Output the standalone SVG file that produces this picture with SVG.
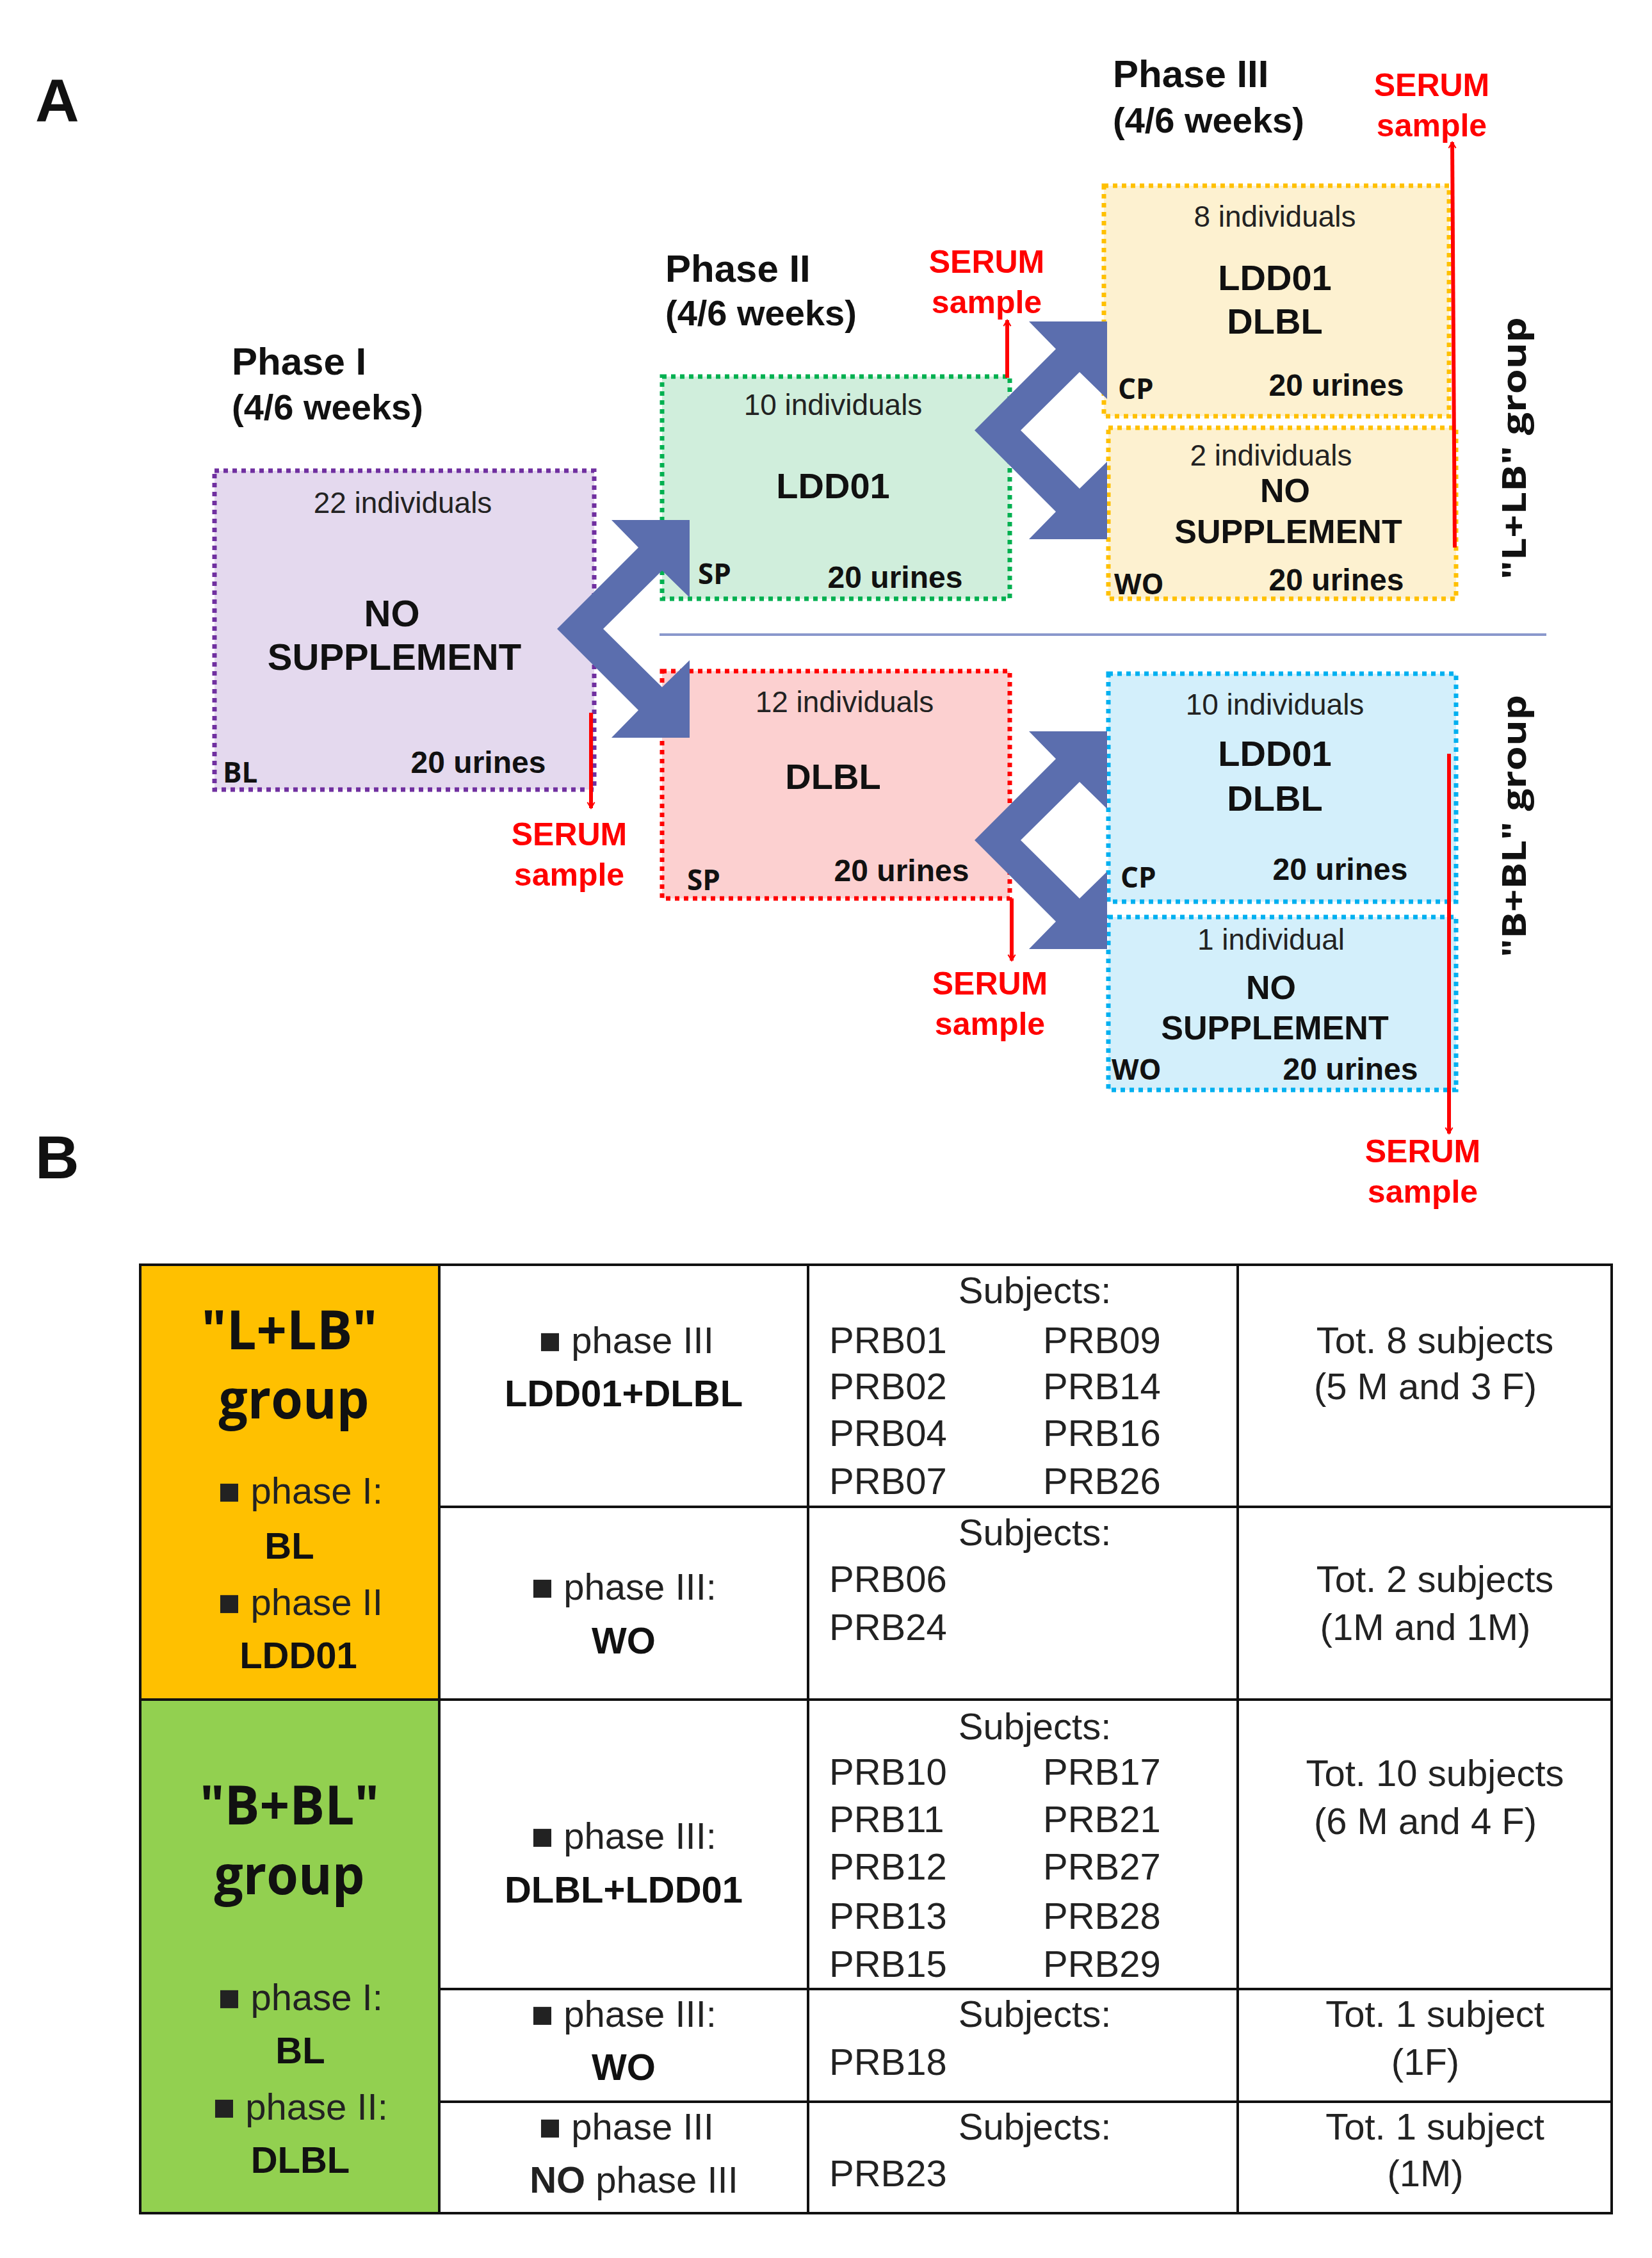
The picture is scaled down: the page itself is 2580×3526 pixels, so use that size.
<svg xmlns="http://www.w3.org/2000/svg" width="2580" height="3526" viewBox="0 0 2580 3526">
<style>
.b{font-family:"Liberation Sans",Arial,sans-serif;font-weight:bold;fill:#111}
.r{font-family:"Liberation Sans",Arial,sans-serif;fill:#222}
.c{font-family:"Open Sans","Liberation Sans",sans-serif;font-weight:bold;fill:#111}
.s{font-family:"Liberation Sans",Arial,sans-serif;font-weight:bold;fill:#ff0000;font-size:50px;text-anchor:middle}
.m{text-anchor:middle}
.box{stroke-width:7;stroke-dasharray:7 7}
.n{font-family:"Liberation Sans Narrow","Liberation Sans",Arial,sans-serif;font-size:58px;fill:#222}
.nb{font-family:"Liberation Sans Narrow","Liberation Sans",Arial,sans-serif;font-size:58px;font-weight:bold;fill:#111}
.cell{stroke:#111;stroke-width:4;fill:none}
.chev{fill:#5b6eae}
.red{stroke:#ff0000;stroke-width:6;fill:none}
</style>
<defs>
<marker id="ah" viewBox="0 0 20 20" refX="17" refY="10" markerWidth="8" markerHeight="8" markerUnits="userSpaceOnUse" orient="auto" style="overflow:visible">
<path d="M-6,-4 L17,10 L-6,24" fill="none" stroke="#ff0000" stroke-width="5"/>
</marker>
<polygon id="chevron" points="0,0 127,-127 85,-170 207,-170 207,-49 164,-91 72,0 164,91 207,49 207,170 85,170 127,127"/>
</defs>
<rect width="2580" height="3526" fill="#fff"/>
<text class="b" x="55" y="190" font-size="95">A</text>
<text class="b" x="55" y="1840" font-size="95">B</text>

<g id="phase-labels">
<text class="b" x="362" y="585" font-size="60">Phase I</text>
<text class="b" x="362" y="655" font-size="56">(4/6 weeks)</text>
<text class="b" x="1039" y="440" font-size="60">Phase II</text>
<text class="b" x="1039" y="508" font-size="56">(4/6 weeks)</text>
<text class="b" x="1738" y="136" font-size="60">Phase III</text>
<text class="b" x="1738" y="207" font-size="56">(4/6 weeks)</text>
</g>

<g id="phase1">
<rect class="box" x="335" y="735" width="593" height="498" fill="#e4d9ee" stroke="#7030a0"/>
<text class="r m" x="629" y="801" font-size="46">22 individuals</text>
<text class="b m" x="612" y="978" font-size="58">NO</text>
<text class="b m" x="616" y="1046" font-size="58">SUPPLEMENT</text>
<text class="c" x="348" y="1222" font-size="44">BL</text>
<text class="b m" x="747" y="1207" font-size="48">20 urines</text>
</g>

<g id="phase2-ldd01">
<rect class="box" x="1034" y="588" width="543" height="347" fill="#d0eedc" stroke="#00b050"/>
<text class="r m" x="1301" y="648" font-size="46">10 individuals</text>
<text class="b m" x="1301" y="778" font-size="56">LDD01</text>
<text class="c" x="1090" y="912" font-size="44">SP</text>
<text class="b m" x="1398" y="918" font-size="48">20 urines</text>
</g>

<g id="phase2-dlbl">
<rect class="box" x="1034" y="1048" width="543" height="355" fill="#fcd0d0" stroke="#ff0000"/>
<text class="r m" x="1319" y="1112" font-size="46">12 individuals</text>
<text class="b m" x="1301" y="1232" font-size="56">DLBL</text>
<text class="c" x="1073" y="1390" font-size="44">SP</text>
<text class="b m" x="1408" y="1376" font-size="48">20 urines</text>
</g>

<g id="phase3-ll-cp">
<rect class="box" x="1724" y="290" width="539" height="360" fill="#fdf1d0" stroke="#ffc000"/>
<text class="r m" x="1991" y="354" font-size="46">8 individuals</text>
<text class="b m" x="1991" y="453" font-size="56" fill="#3a3000">LDD01</text>
<text class="b m" x="1991" y="521" font-size="56" fill="#3a3000">DLBL</text>
<text class="c" x="1746" y="623" font-size="44">CP</text>
<text class="b m" x="2087" y="618" font-size="48">20 urines</text>
</g>

<g id="phase3-ll-wo">
<rect class="box" x="1731" y="668" width="543" height="267" fill="#fdf1d0" stroke="#ffc000"/>
<text class="r m" x="1985" y="727" font-size="46">2 individuals</text>
<text class="b m" x="2007" y="784" font-size="52">NO</text>
<text class="b m" x="2012" y="848" font-size="52">SUPPLEMENT</text>
<text class="c" x="1740" y="928" font-size="44">WO</text>
<text class="b m" x="2087" y="922" font-size="48">20 urines</text>
</g>

<g id="phase3-bb-cp">
<rect class="box" x="1731" y="1052" width="543" height="356" fill="#d3effb" stroke="#00b0f0"/>
<text class="r m" x="1991" y="1116" font-size="46">10 individuals</text>
<text class="b m" x="1991" y="1196" font-size="56">LDD01</text>
<text class="b m" x="1991" y="1266" font-size="56">DLBL</text>
<text class="c" x="1750" y="1386" font-size="44">CP</text>
<text class="b m" x="2093" y="1374" font-size="48">20 urines</text>
</g>

<g id="phase3-bb-wo">
<rect class="box" x="1731" y="1432" width="543" height="270" fill="#d3effb" stroke="#00b0f0"/>
<text class="r m" x="1985" y="1483" font-size="46">1 individual</text>
<text class="b m" x="1985" y="1560" font-size="52">NO</text>
<text class="b m" x="1991" y="1623" font-size="52">SUPPLEMENT</text>
<text class="c" x="1736" y="1686" font-size="44">WO</text>
<text class="b m" x="2109" y="1686" font-size="48">20 urines</text>
</g>

<g id="group-labels">
<text class="c m" transform="translate(2383,700) rotate(-90)" font-size="52" textLength="410" lengthAdjust="spacingAndGlyphs">"L+LB" group</text>
<text class="c m" transform="translate(2383,1290) rotate(-90)" font-size="52" textLength="410" lengthAdjust="spacingAndGlyphs">"B+BL" group</text>
</g>

<g id="connectors">
<line x1="1030" y1="991" x2="2415" y2="991" stroke="#8a98cc" stroke-width="4"/>
<use href="#chevron" class="chev" x="870" y="982"/>
<use href="#chevron" class="chev" x="1522" y="672"/>
<use href="#chevron" class="chev" x="1522" y="1312"/>
<line class="red" x1="923" y1="1113" x2="923" y2="1262" marker-end="url(#ah)"/>
<line class="red" x1="1573" y1="590" x2="1573" y2="500" marker-end="url(#ah)"/>
<line class="red" x1="2272" y1="855" x2="2268" y2="222" marker-end="url(#ah)"/>
<line class="red" x1="1580" y1="1403" x2="1580" y2="1500" marker-end="url(#ah)"/>
<line class="red" x1="2263" y1="1177" x2="2263" y2="1770" marker-end="url(#ah)"/>
<text class="s" x="889" y="1320">SERUM</text>
<text class="s" x="889" y="1383">sample</text>
<text class="s" x="1541" y="426">SERUM</text>
<text class="s" x="1541" y="489">sample</text>
<text class="s" x="2236" y="150">SERUM</text>
<text class="s" x="2236" y="213">sample</text>
<text class="s" x="1546" y="1553">SERUM</text>
<text class="s" x="1546" y="1616">sample</text>
<text class="s" x="2222" y="1815">SERUM</text>
<text class="s" x="2222" y="1878">sample</text>
</g>

<g id="table">
<rect x="219" y="1975" width="467" height="679" fill="#ffc000"/>
<rect x="219" y="2654" width="467" height="802" fill="#92d050"/>
<rect class="cell" x="219" y="1975" width="2298" height="1481"/>
<line class="cell" x1="686" y1="1975" x2="686" y2="3456"/>
<line class="cell" x1="1262" y1="1975" x2="1262" y2="3456"/>
<line class="cell" x1="1933" y1="1975" x2="1933" y2="3456"/>
<line class="cell" x1="686" y1="2353" x2="2517" y2="2353"/>
<line class="cell" x1="219" y1="2654" x2="2517" y2="2654"/>
<line class="cell" x1="686" y1="3106" x2="2517" y2="3106"/>
<line class="cell" x1="686" y1="3282" x2="2517" y2="3282"/>

<text class="c m" x="452" y="2107" font-size="84" textLength="275" lengthAdjust="spacingAndGlyphs">"L+LB"</text>
<text class="c m" x="459" y="2215" font-size="84" textLength="235" lengthAdjust="spacingAndGlyphs">group</text>
<text class="n m" x="469" y="2348">■ phase I:</text>
<text class="nb m" x="452" y="2434">BL</text>
<text class="n m" x="469" y="2522">■ phase II</text>
<text class="nb m" x="466" y="2605">LDD01</text>
<text class="c m" x="452" y="2849" font-size="84" textLength="280" lengthAdjust="spacingAndGlyphs">"B+BL"</text>
<text class="c m" x="452" y="2958" font-size="84" textLength="235" lengthAdjust="spacingAndGlyphs">group</text>
<text class="n m" x="469" y="3139">■ phase I:</text>
<text class="nb m" x="469" y="3222">BL</text>
<text class="n m" x="469" y="3310">■ phase II:</text>
<text class="nb m" x="469" y="3393">DLBL</text>

<text class="n m" x="978" y="2113">■ phase III</text>
<text class="nb m" x="974" y="2196">LDD01+DLBL</text>
<text class="n m" x="974" y="2498">■ phase III:</text>
<text class="nb m" x="974" y="2582">WO</text>
<text class="n m" x="974" y="2887">■ phase III:</text>
<text class="nb m" x="974" y="2971">DLBL+LDD01</text>
<text class="n m" x="974" y="3165">■ phase III:</text>
<text class="nb m" x="974" y="3248">WO</text>
<text class="n m" x="978" y="3341">■ phase III</text>
<text class="n m" x="990" y="3424"><tspan font-weight="bold">NO</tspan> phase III</text>

<text class="n m" x="1616" y="2035">Subjects:</text>
<text class="n" x="1295" y="2113">PRB01</text><text class="n" x="1629" y="2113">PRB09</text>
<text class="n" x="1295" y="2185">PRB02</text><text class="n" x="1629" y="2185">PRB14</text>
<text class="n" x="1295" y="2258">PRB04</text><text class="n" x="1629" y="2258">PRB16</text>
<text class="n" x="1295" y="2333">PRB07</text><text class="n" x="1629" y="2333">PRB26</text>
<text class="n m" x="1616" y="2413">Subjects:</text>
<text class="n" x="1295" y="2486">PRB06</text>
<text class="n" x="1295" y="2561">PRB24</text>
<text class="n m" x="1616" y="2716">Subjects:</text>
<text class="n" x="1295" y="2787">PRB10</text><text class="n" x="1629" y="2787">PRB17</text>
<text class="n" x="1295" y="2861">PRB11</text><text class="n" x="1629" y="2861">PRB21</text>
<text class="n" x="1295" y="2935">PRB12</text><text class="n" x="1629" y="2935">PRB27</text>
<text class="n" x="1295" y="3012">PRB13</text><text class="n" x="1629" y="3012">PRB28</text>
<text class="n" x="1295" y="3087">PRB15</text><text class="n" x="1629" y="3087">PRB29</text>
<text class="n m" x="1616" y="3165">Subjects:</text>
<text class="n" x="1295" y="3240">PRB18</text>
<text class="n m" x="1616" y="3341">Subjects:</text>
<text class="n" x="1295" y="3414">PRB23</text>

<text class="n m" x="2241" y="2113">Tot. 8 subjects</text>
<text class="n m" x="2226" y="2185">(5 M and 3 F)</text>
<text class="n m" x="2241" y="2486">Tot. 2 subjects</text>
<text class="n m" x="2226" y="2561">(1M and 1M)</text>
<text class="n m" x="2241" y="2789">Tot. 10 subjects</text>
<text class="n m" x="2226" y="2864">(6 M and 4 F)</text>
<text class="n m" x="2241" y="3165">Tot. 1 subject</text>
<text class="n m" x="2226" y="3240">(1F)</text>
<text class="n m" x="2241" y="3341">Tot. 1 subject</text>
<text class="n m" x="2226" y="3414">(1M)</text>
</g>
</svg>
